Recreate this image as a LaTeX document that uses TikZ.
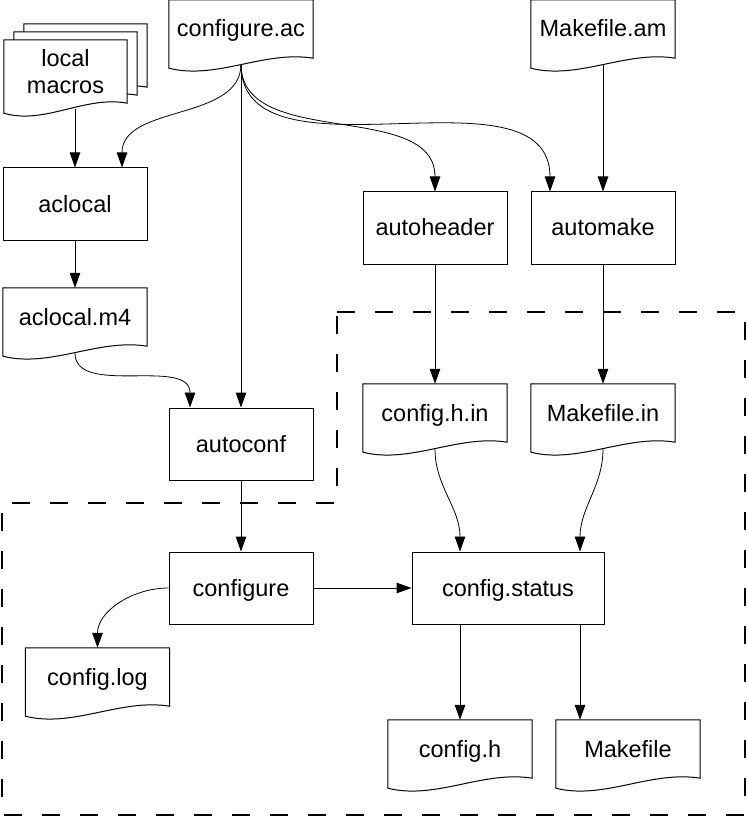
\documentclass[tikz,border=0pt]{standalone}
\usepackage{fontspec}
\setmainfont{Liberation Sans}
\usetikzlibrary{arrows.meta,calc,backgrounds}

% outline of a document sheet, wavy bottom edge
\newcommand{\docoutline}[1]{%
  \draw[docline] (#1.north west) -- (#1.north east) -- (#1.south east)
    .. controls ($(#1.south east)!0.34!(#1.south west)+(0,-8)$)
    and ($(#1.south east)!0.67!(#1.south west)+(0,22)$)
    .. ($(#1.south west)+(0,10)$) -- cycle;}

\begin{document}
\begin{tikzpicture}[
        x=1pt, y=-1pt,
        every node/.style={font=\fontsize{23.5}{27}\selectfont, inner sep=0pt},
        proc/.style={draw, line width=1pt, minimum width=144pt, minimum height=72pt,
            text height=20pt, text depth=4pt},
        doc/.style={minimum width=144pt, minimum height=58pt,
            text height=20pt, text depth=4pt},
        stack/.style={minimum width=123pt, minimum height=63pt, align=center},
        docline/.style={line width=1pt, fill=white},
        flow/.style={->, line width=1pt},
        curvedflow/.style={->, line width=0.8pt},
        region/.style={line width=2.8pt, dash pattern=on 18pt off 20pt},
        >={Triangle[length=15pt, width=10.5pt]},
    ]
    \useasboundingbox (0,0) rectangle (747,818);

    % sources
    \node[stack] (localback2) at (85.5,55.5) {};
    \node[stack] (localback1) at (75.5,63.5) {};
    \node[stack] (localmacros) at (65.5,71.5) {local\\macros};
    \node[doc] (configureac) at (241,29) {configure.ac};
    \node[doc] (makefileam) at (603,29) {Makefile.am};

    % tools
    \node[proc] (aclocal) at (75,204) {aclocal};
    \node[doc] (aclocalmf) at (75,317) {aclocal.m4};
    \node[proc] (autoconf) at (241,444) {autoconf};
    \node[proc] (autoheader) at (435,228) {autoheader};
    \node[proc] (automake) at (603,228) {automake};
    \node[doc] (confighin) at (435,413) {config.h.in};
    \node[doc] (makefilein) at (603,413) {Makefile.in};

    % configure time
    \node[proc] (configure) at (241,588) {configure};
    \node[proc, minimum width=192pt] (configstatus) at (508,588) {config.status};
    \node[doc] (configlog) at (97.5,677) {config.log};
    \node[doc] (configh) at (460,749) {config.h};
    \node[doc] (makefile) at (628,749) {Makefile};

    \begin{scope}[on background layer]
        \foreach \n in {localback2,localback1,localmacros,configureac,makefileam,
                aclocalmf,confighin,makefilein,configlog,configh,makefile}
            \docoutline{\n};
    \end{scope}

    % dashed regions
    \draw[region] (337,312) -- (745,312) -- (745,815) -- (2,815)
        -- (2,503) -- (337,503) -- cycle;

    % connectors
    \draw[flow, shorten <=6pt] (localmacros.south -| aclocal.north) -- (aclocal.north);
    \draw[curvedflow, shorten <=6pt] (configureac.south) to[out=-90,in=90] ([xshift=47pt]aclocal.north);
    \draw[flow, shorten <=6pt] (configureac.south) -- (autoconf.north);
    \draw[curvedflow, shorten <=6pt] (configureac.south) to[out=-90,in=90] (autoheader.north);
    \draw[curvedflow, shorten <=6pt] (configureac.south) to[out=-90,in=90] ([xshift=-53pt]automake.north);
    \draw[flow, shorten <=6pt] (makefileam.south) -- (automake.north);
    \draw[flow] (aclocal.south) -- (aclocalmf.north);
    \draw[curvedflow, shorten <=7pt] (aclocalmf.south) to[out=-90,in=90] ([xshift=-51pt]autoconf.north);
    \draw[flow] (autoheader.south) -- (confighin.north);
    \draw[flow] (automake.south) -- (makefilein.north);
    \draw[flow] (autoconf.south) -- (configure.north);
    \draw[curvedflow, shorten <=7pt] (confighin.south) to[out=-90,in=90] ([xshift=-48pt]configstatus.north);
    \draw[curvedflow, shorten <=7pt] (makefilein.south) to[out=-90,in=90] ([xshift=72pt]configstatus.north);
    \draw[curvedflow] (configure.west) to[out=180,in=90] (configlog.north);
    \draw[flow] (configure.east) -- (configstatus.west);
    \draw[flow] (configstatus.south -| configh.north) -- (configh.north);
    \draw[flow] ([xshift=72pt]configstatus.south) -- ([xshift=-48pt]makefile.north);
\end{tikzpicture}
\end{document}
